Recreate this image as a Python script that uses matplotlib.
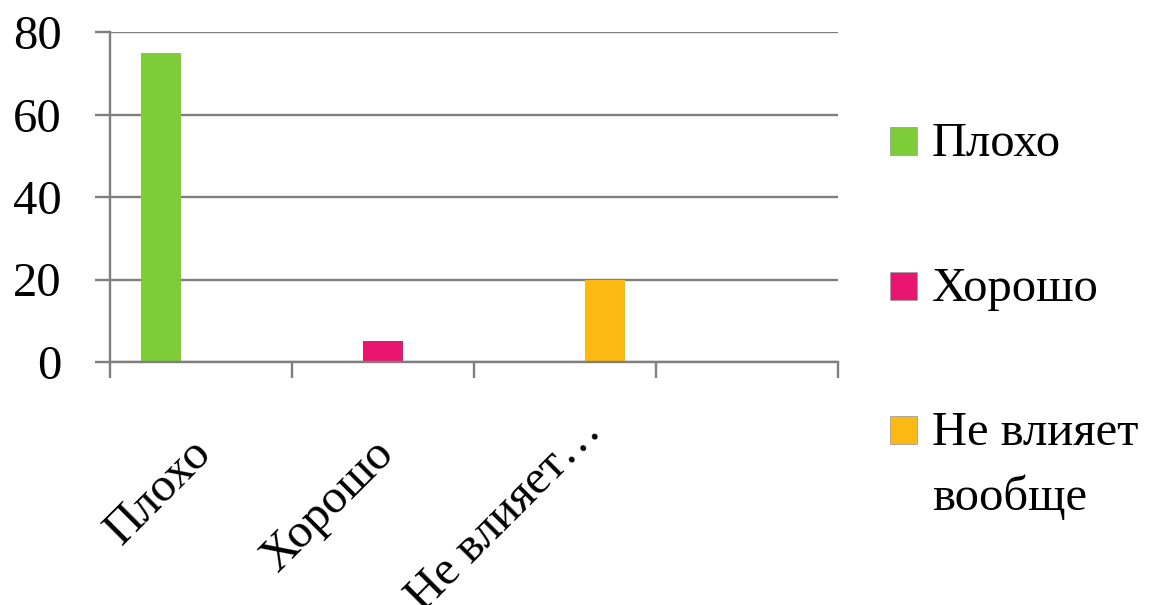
import matplotlib
matplotlib.use("Agg")
import matplotlib.pyplot as plt
from matplotlib.patches import Rectangle
from matplotlib.transforms import ScaledTranslation, blended_transform_factory
import numpy as np

categories = ["Плохо", "Хорошо", "Не влияет…", ""]
series_names = ["Плохо", "Хорошо", "Не влияет\nвообще"]
series_values = [
    [75, 0, 0, 0],
    [0, 5, 0, 0],
    [0, 0, 20, 0],
]
colors = ["#7DCC38", "#E8166F", "#FDB913"]
yticks = [0, 20, 40, 60, 80]

W, H = 1161, 605
FONT = "Liberation Serif"
FS = 35
GRAY = "#7F7F7F"

fig = plt.figure(figsize=(W / 100, H / 100), dpi=100)
ax = fig.add_axes([110 / W, 1 - 362 / H, 728 / W, 330 / H])

x = np.arange(len(categories))
bw = 0.22
offsets = [-0.22, 0.0, 0.22]
for vals, off, c in zip(series_values, offsets, colors):
    ax.bar(x + off, vals, width=bw, color=c, linewidth=0, zorder=3)

ax.set_xlim(-0.5, len(categories) - 0.5)
ax.set_ylim(0, 80)
ax.set_yticks(yticks)
ax.set_yticklabels([str(v) for v in yticks], fontfamily=FONT, fontsize=FS)
ax.grid(axis="y", color=GRAY, linewidth=1.7, zorder=0)
ax.tick_params(axis="y", length=10.8, width=1.7, color=GRAY, pad=24)

ax.set_xticks(np.arange(len(categories) + 1) - 0.5)
ax.set_xticklabels([])
ax.tick_params(axis="x", which="major", length=11.5, width=1.7, color=GRAY)

# category labels (rotated, anchored at top-right)
base = blended_transform_factory(ax.transData, ax.transAxes)
label_shift_px = [(-12, -69), (-11, -69), (14, -47), (0, -69)]
for xi, lab, (dx, dy) in zip(x, categories, label_shift_px):
    tr = base + ScaledTranslation(dx / 100, dy / 100, fig.dpi_scale_trans)
    ax.text(xi, 0, lab, transform=tr, fontfamily=FONT, fontsize=FS,
            rotation=45, ha="right", va="top", rotation_mode="anchor",
            clip_on=False)

for s in ["top", "right"]:
    ax.spines[s].set_visible(False)
for s in ["left", "bottom"]:
    ax.spines[s].set_color(GRAY)
    ax.spines[s].set_linewidth(1.7)
    ax.spines[s].set_zorder(4)

# legend (manual, Excel-like: square aligned with first line)
leg_y = [141, 286, 430]
for name, c, yy in zip(series_names, colors, leg_y):
    fig.add_artist(Rectangle((890 / W, 1 - (yy + 14) / H), 27 / W, 28 / H,
                             facecolor=c, edgecolor="#A0A0A0", linewidth=0.6,
                             transform=fig.transFigure))
    for i, ln in enumerate(name.split("\n")):
        fig.text(932 / W, 1 - (yy + 15 + i * 65) / H, ln, fontfamily=FONT,
                 fontsize=FS, ha="left", va="baseline")

fig.savefig("out.png", dpi=100)
